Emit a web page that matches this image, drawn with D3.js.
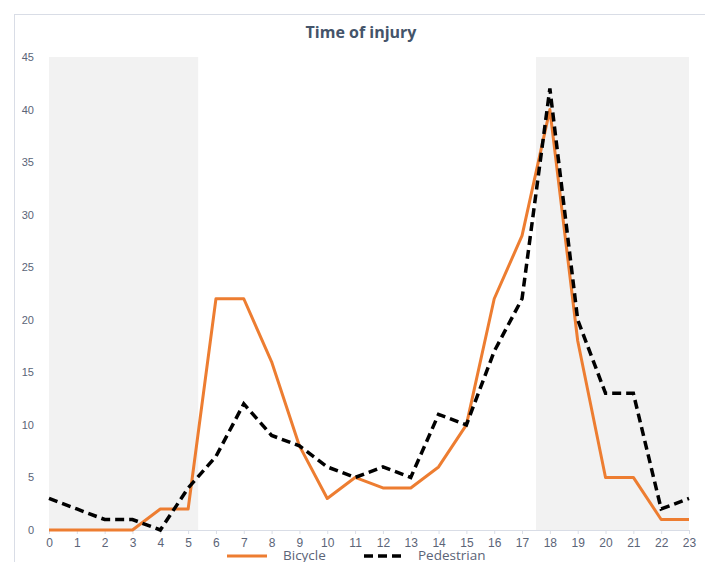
<!DOCTYPE html>
<html>
<head>
<meta charset="utf-8">
<script src="https://cdn.jsdelivr.net/npm/d3@7"></script>
<style>
  body { margin: 0; background: #fff; }
  svg { display: block; font-family: "Open Sans", "Noto Sans", sans-serif; }
  .tick text { fill: #5b6477; }
</style>
</head>
<body>
<svg id="chart"></svg>
<script>
const hours = d3.range(0, 24);
const bicycle = [0, 0, 0, 0, 2, 2, 22, 22, 16, 8, 3, 5, 4, 4, 6, 10, 22, 28, 40, 18, 5, 5, 1, 1];
const pedestrian = [3, 2, 1, 1, 0, 4, 7, 12, 9, 8, 6, 5, 6, 5, 11, 10, 17, 22, 42, 20, 13, 13, 2, 3];
// dark hours shaded in the background (hour units)
const nightStart = [0, 17.5];
const nightEnd = [5.36, 23];
const yTicks = [0, 5, 10, 15, 20, 25, 30, 35, 40, 45];

const W = 705, H = 562;
const m = { top: 57, right: 16, bottom: 32, left: 49 };

const svg = d3.select("#chart").attr("width", W).attr("height", H);

// chart frame
svg.append("rect")
  .attr("x", 14.5).attr("y", 14.5)
  .attr("width", W).attr("height", H)
  .attr("fill", "none").attr("stroke", "#d9dde6");

const x = d3.scaleLinear().domain([0, 23]).range([m.left, W - m.right]);
const y = d3.scaleLinear().domain([0, 45]).range([H - m.bottom, m.top]);

// shaded bands
svg.append("g").selectAll("rect")
  .data(nightStart)
  .join("rect")
  .attr("x", d => x(d))
  .attr("y", y(45))
  .attr("width", (d, i) => x(nightEnd[i]) - x(d))
  .attr("height", y(0) - y(45))
  .attr("fill", "#f2f2f2");

// y axis labels only
const yAxis = svg.append("g")
  .attr("transform", "translate(" + (m.left - 15) + ",0)")
  .call(d3.axisLeft(y).tickValues(yTicks).tickSize(0).tickPadding(0));
yAxis.select(".domain").remove();
yAxis.selectAll("text").attr("font-size", 11);

// x axis
const xAxis = svg.append("g")
  .attr("transform", "translate(0," + y(0) + ")")
  .call(d3.axisBottom(x).tickValues(hours).tickSize(4).tickPadding(4).tickFormat(d3.format("d")));
xAxis.select(".domain").attr("stroke", "#d9dde6");
xAxis.selectAll(".tick line").attr("stroke", "#d9dde6");
xAxis.selectAll("text").attr("font-size", 12);

const line = d3.line().x((d, i) => x(hours[i])).y(d => y(d));

svg.append("path")
  .datum(bicycle)
  .attr("d", line)
  .attr("fill", "none")
  .attr("stroke", "#ed7d31")
  .attr("stroke-width", 3)
  .attr("stroke-linejoin", "round");

svg.append("path")
  .datum(pedestrian)
  .attr("d", line)
  .attr("fill", "none")
  .attr("stroke", "#000")
  .attr("stroke-width", 3.5)
  .attr("stroke-dasharray", "9,5");

// title
svg.append("text")
  .attr("x", 361).attr("y", 38)
  .attr("text-anchor", "middle")
  .attr("font-size", 16)
  .attr("font-weight", "bold")
  .attr("fill", "#44546a")
  .text("Time of injury");

// legend
const legend = [
  { name: "Bicycle", color: "#ed7d31", dash: null, x: 227 },
  { name: "Pedestrian", color: "#000", dash: "9,5", x: 364 }
];
const lg = svg.append("g").selectAll("g").data(legend).join("g")
  .attr("transform", d => "translate(" + d.x + ",556)");
lg.append("line")
  .attr("x1", 0).attr("x2", 40).attr("y1", 0).attr("y2", 0)
  .attr("stroke", d => d.color)
  .attr("stroke-width", d => d.dash ? 3.5 : 3)
  .attr("stroke-dasharray", d => d.dash);
lg.append("text")
  .attr("x", d => d.dash ? 54 : 56).attr("y", 4)
  .attr("font-size", 13.5)
  .attr("fill", "#5b6477")
  .text(d => d.name);
</script>
</body>
</html>
